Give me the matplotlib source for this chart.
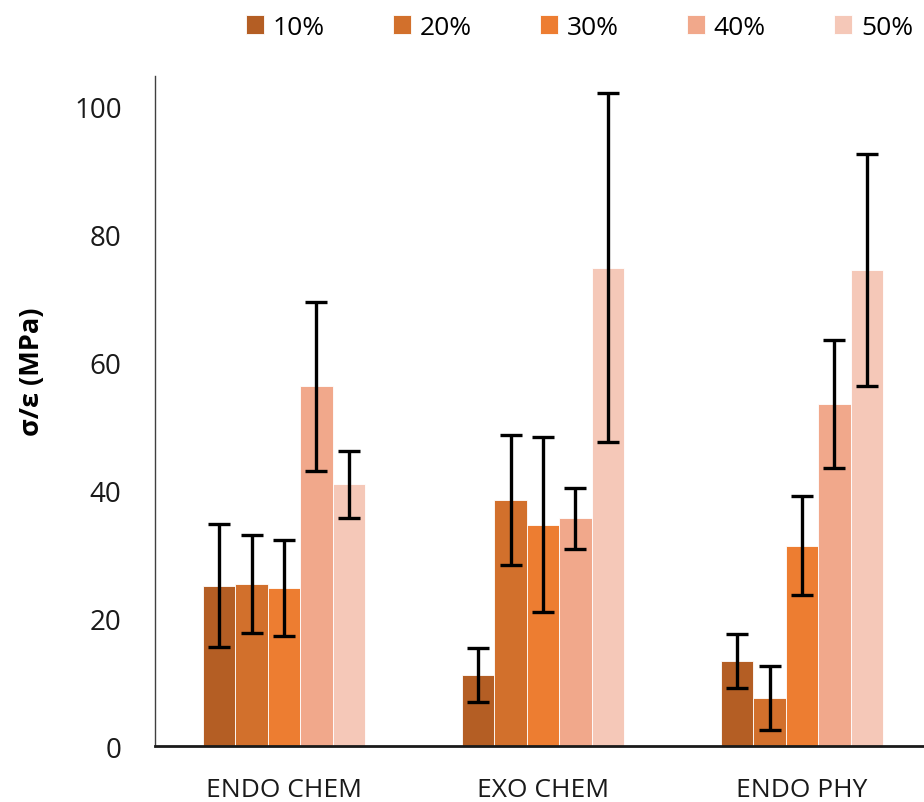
import numpy as np
import matplotlib.pyplot as plt

plt.rcParams['font.family'] = ['Open Sans', 'DejaVu Sans']

groups = ['ENDO CHEM', 'EXO CHEM', 'ENDO PHY']
series = ['10%', '20%', '30%', '40%', '50%']
colors = ['#B45E24', '#D2702C', '#ED7D31', '#F1A88B', '#F5C8B8']

# mean modulus per series, one value per group
means = {
    '10%': [25.05, 11.1, 13.3],
    '20%': [25.3, 38.4, 7.45],
    '30%': [24.7, 34.6, 31.3],
    '40%': [56.25, 35.6, 53.4],
    '50%': [40.9, 74.8, 74.4],
}
# standard deviations
errs = {
    '10%': [9.6, 4.15, 4.2],
    '20%': [7.7, 10.15, 5.0],
    '30%': [7.55, 13.7, 7.75],
    '40%': [13.2, 4.8, 10.0],
    '50%': [5.2, 27.3, 18.15],
}

fig = plt.figure(figsize=(9.24, 8.03), dpi=100)
ax = fig.add_axes([0.1677, 0.0697, 0.8323, 0.834])

x = np.arange(len(groups))
w = 0.125
for i, s in enumerate(series):
    pos = x + (i - 2) * w
    ax.bar(pos, means[s], width=w, color=colors[i], edgecolor='white',
           linewidth=0.6, label=s, zorder=2)
    ax.errorbar(pos, means[s], yerr=errs[s], fmt='none', ecolor='black',
                elinewidth=2.4, capsize=8, capthick=2.4, zorder=3)

ax.set_xlim(-0.498, 2.471)
ax.set_ylim(0, 104.7)
ax.set_yticks([0, 20, 40, 60, 80, 100])
ax.set_xticks(x)
ax.set_xticklabels(groups)
ax.tick_params(axis='both', length=0, colors='#1a1a1a')
ax.tick_params(axis='y', labelsize=20, pad=24)
ax.tick_params(axis='x', labelsize=19, pad=22)

ax.spines['top'].set_visible(False)
ax.spines['right'].set_visible(False)
ax.spines['left'].set_color('#404040')
ax.spines['left'].set_linewidth(1.0)
ax.spines['bottom'].set_color('#1a1a1a')
ax.spines['bottom'].set_linewidth(2.0)

ax.set_ylabel('σ/ε (MPa)', fontsize=19.5, fontweight='bold')
ax.yaxis.set_label_coords(-0.143, 0.56)

fig.legend(loc='upper center', bbox_to_anchor=(0.627, 1.01), ncol=5,
           frameon=False, fontsize=19, handlelength=0.68, handleheight=0.68,
           handletextpad=0.34, columnspacing=2.58)

fig.savefig('out.png', dpi=100)
